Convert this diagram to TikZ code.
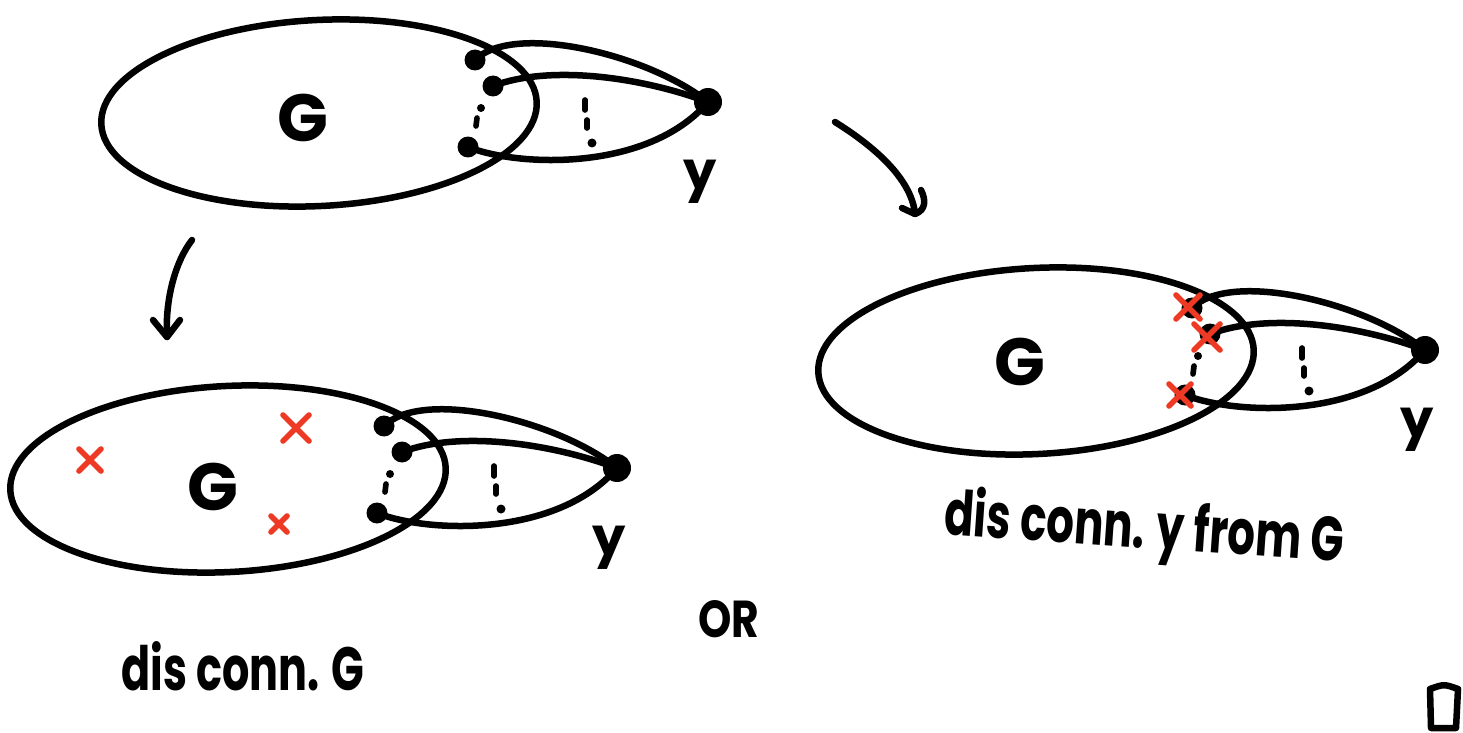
\documentclass[tikz,border=0pt]{standalone}
\usepackage{fontspec}
\setmainfont{Poppins}
\definecolor{xred}{RGB}{238,58,36}
\tikzset{
  ln/.style={line width=3.7pt, line cap=round, line join=round},
  thinmark/.style={line width=3.2pt, line cap=round},
  vtx/.style={circle, fill=black, inner sep=0pt, minimum size=0.42cm},
  yvtx/.style={circle, fill=black, inner sep=0pt, minimum size=0.56cm},
  crossmark/.style={draw=xred, line width=3.2pt, line cap=round},
  lbl/.style={inner sep=0pt, font=\fontsize{30}{34}\selectfont\bfseries},
  glbl/.style={inner sep=0pt, font=\fontsize{38}{42}\selectfont\bfseries},
  txt/.style={inner sep=0pt, anchor=base, font=\bfseries},
}
\newcommand\gadget[3]{%
  \begin{scope}[shift={(#2,#3)}]
    \draw[ln, rotate around={3:(-389,11)}] (-389,11) ellipse [x radius=218, y radius=93];
    \node[yvtx] (#1y) at (0,0) {};
    \node[vtx] (#1a) at (-233,-42) {};
    \node[vtx] (#1b) at (-215,-16) {};
    \node[vtx] (#1c) at (-240,45) {};
    \draw[ln] (#1a.center) .. controls (-195,-80) and (-60,-48) .. (#1y.center);
    \draw[ln] (#1b.center) .. controls (-160,-37) and (-70,-26) .. (#1y.center);
    \draw[ln] (#1c.center) .. controls (-190,65) and (-60,70) .. (#1y.center);
    \fill (-227,6) circle [radius=4];
    \draw[thinmark] (-231,16) -- (-232,24);
    \draw[thinmark] (-123,-2) -- (-123,8);
    \draw[thinmark] (-121,18) -- (-121,26);
    \fill (-116,41) circle [radius=4.5];
    \node[lbl] (#1yl) at (-8,80) {y};
  \end{scope}}
\newcommand\redx[4]{%
  \coordinate (#1) at (#2,#3);
  \draw[crossmark] ([shift={(-#4,-#4)}]#1) -- ([shift={(#4,#4)}]#1);
  \draw[crossmark] ([shift={(#4,-#4)}]#1) -- ([shift={(-#4,#4)}]#1);}
\begin{document}
\begin{tikzpicture}[x=0.02cm, y=-0.02cm]
  \useasboundingbox (0,0) rectangle (1463,733);
  % top diagram
  \gadget{t}{708}{102}
  \node[glbl] (tG) at (303,118) {G};
  % bottom-left diagram
  \gadget{l}{617}{468}
  \node[glbl] (lG) at (213,487) {G};
  \redx{lx1}{90}{460}{11}
  \redx{lx2}{296}{428}{13}
  \redx{lx3}{279}{524}{8}
  % right diagram
  \gadget{r}{1425}{350}
  \node[glbl] (rG) at (1020,362) {G};
  \redx{rx1}{1188}{307}{12}
  \redx{rx2}{1207}{337}{13}
  \redx{rx3}{1180}{395}{11}
  % arrows
  \coordinate (a1s) at (835,122);
  \coordinate (a1t) at (915,214);
  \coordinate (a1l) at (902,208);
  \coordinate (a1r) at (921,190);
  \draw[ln] (a1s) .. controls (880,150) and (912,182) .. (a1t);
  \draw[ln] (a1l) -- (a1t) .. controls (926,210) and (926,200) .. (a1r);
  \coordinate (a2s) at (192,240);
  \coordinate (a2t) at (167,337);
  \coordinate (a2l) at (153,320);
  \coordinate (a2r) at (180,320);
  \draw[ln] (a2s) .. controls (175,262) and (165,300) .. (a2t);
  \draw[ln] (a2l) -- (a2t) -- (a2r);
  % labels
  \node[txt] (lab1) at (243,690) {\resizebox{4.86cm}{0.98cm}{dis conn. G}};
  \node[txt] (lab2) at (729,637) {\resizebox{1.22cm}{0.74cm}{OR}};
  \node[txt, rotate=-4] (lab3) at (1143,548) {\resizebox{8.0cm}{1.0cm}{dis conn. y from G}};
  % end box
  \coordinate (b1) at (1430,689);
  \coordinate (b2) at (1458,689);
  \coordinate (b3) at (1456,728);
  \coordinate (b4) at (1431,728);
  \draw[ln] (b1) .. controls (1444,684) .. (b2) -- (b3) -- (b4) -- cycle;
\end{tikzpicture}
\end{document}
